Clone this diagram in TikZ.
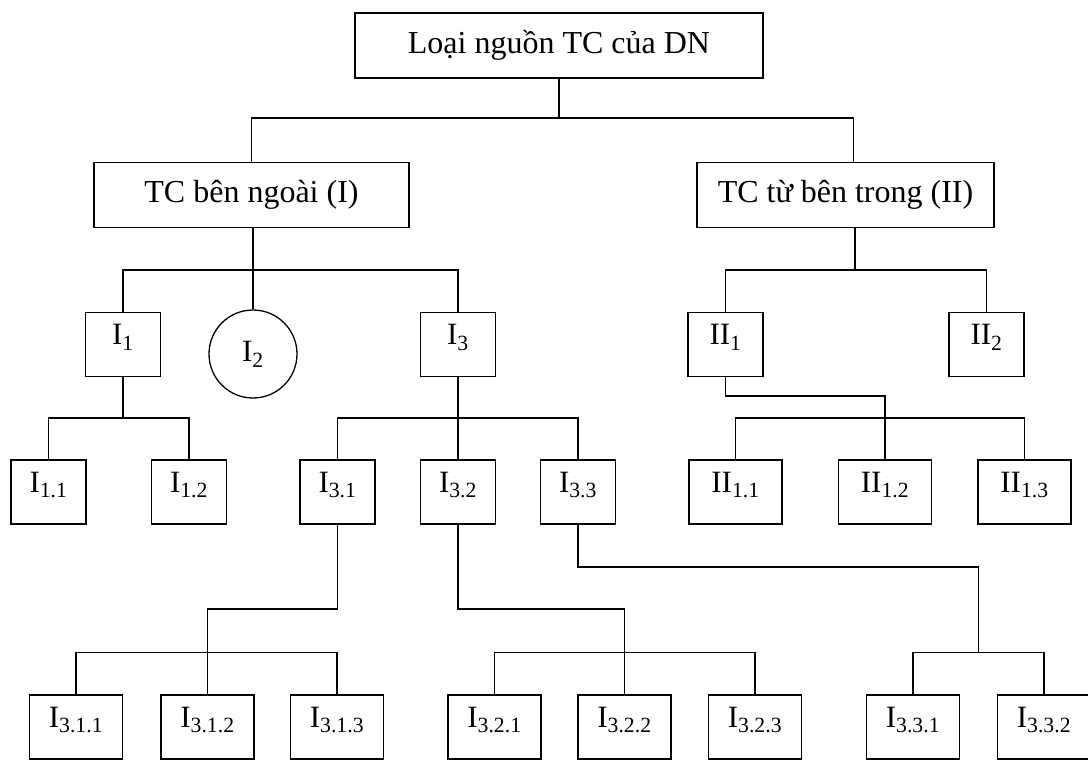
\documentclass[tikz,border=0pt]{standalone}
\usepackage{fontspec}
\setmainfont{Liberation Serif}
\usepackage{tikz}
\usetikzlibrary{calc}

\begin{document}
\begin{tikzpicture}[x=1pt,y=-1pt,line width=1.3pt,
    box/.style={draw, inner sep=0pt, minimum height=65pt, font=\fontsize{32}{38}\selectfont},
    leaf/.style={draw, inner sep=0pt, minimum height=64pt, minimum width=93pt, text height=22pt, text depth=22pt, font=\fontsize{31}{36}\selectfont},
    small/.style={leaf, minimum width=75pt}]
                    \useasboundingbox (0,0) rectangle (1088,760);
                    % top levels
                    \node[box, minimum width=408pt] (top) at (559,45.5) {Loại nguồn TC của DN};
                    \node[box, minimum width=315pt] (ext) at (251.5,195) {TC bên ngoài (I)};
                    \node[box, minimum width=297pt] (int) at (845.5,195) {TC từ bên trong (II)};
                    \node[small] (i1) at (123,344.5) {I\textsubscript{1}};
                    \node[draw, circle, inner sep=0pt, minimum size=88pt, font=\fontsize{31}{36}\selectfont] (i2) at (253,354) {I\textsubscript{2}};
                    \node[small] (i3) at (458,344.5) {I\textsubscript{3}};
                    \node[small] (ii1) at (725.5,344.5) {II\textsubscript{1}};
                    \node[small] (ii2) at (986.5,344.5) {II\textsubscript{2}};
                    % third row
                    \node[small] (i11) at (48.5,492) {I\textsubscript{1.1}};
                    \node[small] (i12) at (189,492) {I\textsubscript{1.2}};
                    \node[small] (i31) at (337.5,492) {I\textsubscript{3.1}};
                    \node[small] (i32) at (458,492) {I\textsubscript{3.2}};
                    \node[small] (i33) at (578,492) {I\textsubscript{3.3}};
                    \node[leaf] (ii11) at (735.5,492) {II\textsubscript{1.1}};
                    \node[leaf] (ii12) at (885,492) {II\textsubscript{1.2}};
                    \node[leaf] (ii13) at (1024.5,492) {II\textsubscript{1.3}};
                    % bottom row
                    \node[leaf] (i311) at (76,727) {I\textsubscript{3.1.1}};
                    \node[leaf] (i312) at (207.5,727) {I\textsubscript{3.1.2}};
                    \node[leaf] (i313) at (337,727) {I\textsubscript{3.1.3}};
                    \node[leaf] (i321) at (494.5,727) {I\textsubscript{3.2.1}};
                    \node[leaf] (i322) at (624.5,727) {I\textsubscript{3.2.2}};
                    \node[leaf] (i323) at (755,727) {I\textsubscript{3.2.3}};
                    \node[leaf] (i331) at (913,727) {I\textsubscript{3.3.1}};
                    \node[leaf] (i332) at (1044,727) {I\textsubscript{3.3.2}};

                    \coordinate (j0) at (559,118);
                    \coordinate (j1) at (253,270);
                    \coordinate (j2) at (855,270);
                    \coordinate (j3) at (123,418);
                    \coordinate (j4) at (458,418);
                    \coordinate (j5) at (725.5,396);
                    \coordinate (j6) at (735.5,418);
                    \coordinate (j7) at (337.5,609);
                    \coordinate (j8) at (458,609);
                    \coordinate (j9) at (578,567);

                    \draw (top) -- (j0);
                    \draw (ext.north) |- (j0) -| ([xshift=8pt]int.north);
                    \draw ([xshift=1.5pt]ext.south) -- (j1);
                    \draw (i1.north) |- (j1) -| (i3.north);
                    \draw (j1) -- (i2);
                    \draw ([xshift=9.5pt]int.south) -- (j2);
                    \draw (ii1.north) |- (j2) -| (ii2.north);
                    \draw (i1) -- (j3);
                    \draw (i11.north) |- (j3) -| (i12.north);
                    \draw (i3) -- (j4);
                    \draw (i31.north) |- (j4) -| (i33.north);
                    \draw (j4) -- (i32);
                    \draw (ii1) -- (j5) -| (ii12.north);
                    \draw (ii11.north) |- (j6) -| (ii13.north);
                    \draw (i31) -- (j7) -| (i312.north);
                    \draw (i311.north) |- ($(i312.north)+(0,-42)$) -| (i313.north);
                    \draw (i32) -- (j8) -| (i322.north);
                    \draw (i321.north) |- ($(i322.north)+(0,-42)$) -| (i323.north);
                    \draw (i33) -- (j9) -| ($(i331.north)!0.5!(i332.north)+(0,-42)$);
                    \draw (i331.north) |- ($(i331.north)!0.5!(i332.north)+(0,-42)$) -| (i332.north);
                \end{tikzpicture}
\end{document}
